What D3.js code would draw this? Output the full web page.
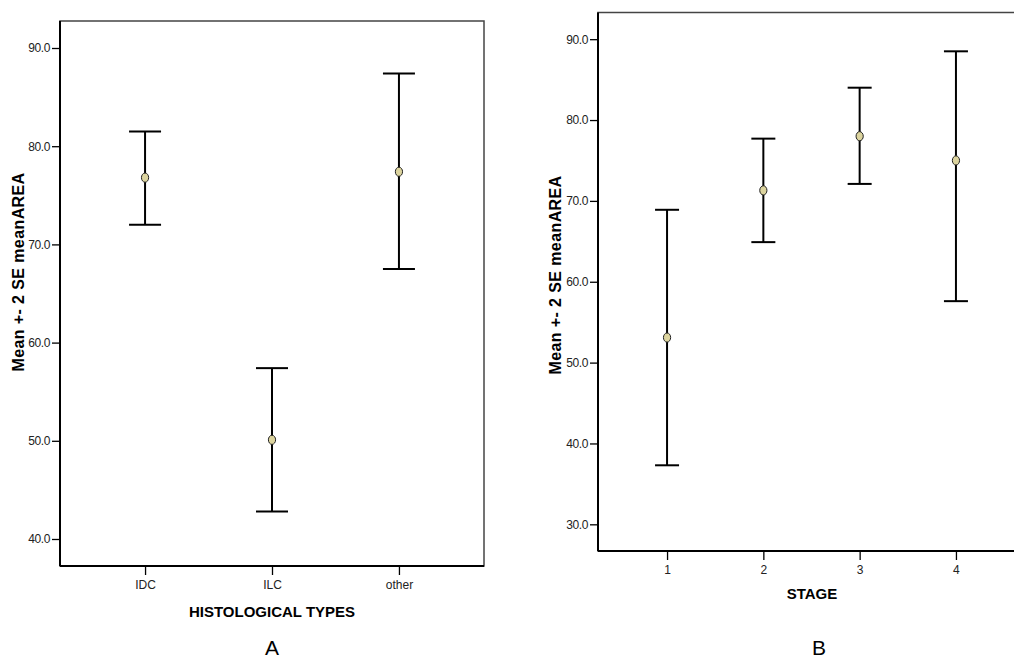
<!DOCTYPE html>
<html>
<head>
<meta charset="utf-8">
<script src="https://cdn.jsdelivr.net/npm/d3@7"></script>
<style>
  body { margin: 0; background: #fff; }
  svg { display: block; }
</style>
</head>
<body>
<div class="chart"></div>
<script>
// panel A: histological types
const histTypes = ["IDC", "ILC", "other"];
const histMean = [76.8, 50.1, 77.4];
const histLower = [72.0, 42.8, 67.5];
const histUpper = [81.5, 57.4, 87.4];
const histTicks = [40, 50, 60, 70, 80, 90];

// panel B: stage
const stages = ["1", "2", "3", "4"];
const stageMean = [53.1, 71.3, 78.0, 75.0];
const stageLower = [37.3, 64.9, 72.1, 57.6];
const stageUpper = [68.9, 77.7, 84.0, 88.5];
const stageTicks = [30, 40, 50, 60, 70, 80, 90];

const W = 1014, H = 661;
const narrow = "'Liberation Sans Narrow', 'Liberation Sans', Arial, sans-serif";
const sans = "'Liberation Sans', Arial, sans-serif";

const svg = d3.select(".chart")
    .append("svg")
        .attr("width", W)
        .attr("height", H);

const drawPanel = (p) => {
    const g = svg.append("g");
    const x = d3.scalePoint()
        .domain(p.cats)
        .range([p.left, p.right])
        .padding(p.pad);
    const y = d3.scaleLinear()
        .domain(p.yDomain)
        .range([p.bottom, p.top]);

    // frame (top/right lighter)
    g.append("rect")
        .attr("x", p.left).attr("y", p.top)
        .attr("width", p.right - p.left).attr("height", p.bottom - p.top)
        .attr("fill", "none").attr("stroke", "#444").attr("stroke-width", 1.5);

    // y axis
    const yAxis = g.append("g")
        .attr("transform", `translate(${p.left},0)`)
        .call(d3.axisLeft(y).tickValues(p.ticks).tickFormat(d3.format(".1f")).tickSize(8).tickPadding(2));
    yAxis.select(".domain").remove();
    yAxis.selectAll("line").attr("stroke", "#000").attr("stroke-width", 1.3);
    yAxis.selectAll("text").attr("font-family", narrow).attr("font-size", 12)
        .attr("letter-spacing", -0.4).attr("fill", "#222");
    g.append("line")
        .attr("x1", p.left).attr("x2", p.left)
        .attr("y1", p.top).attr("y2", p.bottom)
        .attr("stroke", "#000").attr("stroke-width", 2);

    // x axis
    const xAxis = g.append("g")
        .attr("transform", `translate(0,${p.bottom})`)
        .call(d3.axisBottom(x).tickSize(9).tickPadding(5));
    xAxis.select(".domain").remove();
    xAxis.selectAll("line").attr("stroke", "#000").attr("stroke-width", 1.3);
    xAxis.selectAll("text").attr("font-family", narrow).attr("font-size", 12).attr("fill", "#222");
    g.append("line")
        .attr("x1", p.left).attr("x2", p.right)
        .attr("y1", p.bottom).attr("y2", p.bottom)
        .attr("stroke", "#000").attr("stroke-width", 2.2);

    const data = p.cats.map((c, i) => ({ cat: c, mean: p.mean[i], lo: p.lower[i], hi: p.upper[i] }));
    const bars = g.append("g").selectAll("g")
        .data(data)
        .join("g");
    bars.append("line")
        .attr("x1", d => x(d.cat)).attr("x2", d => x(d.cat))
        .attr("y1", d => y(d.hi)).attr("y2", d => y(d.lo))
        .attr("stroke", "#000").attr("stroke-width", 2);
    bars.append("line")
        .attr("x1", d => x(d.cat) - p.cap / 2).attr("x2", d => x(d.cat) + p.cap / 2)
        .attr("y1", d => y(d.hi)).attr("y2", d => y(d.hi))
        .attr("stroke", "#000").attr("stroke-width", 2);
    bars.append("line")
        .attr("x1", d => x(d.cat) - p.cap / 2).attr("x2", d => x(d.cat) + p.cap / 2)
        .attr("y1", d => y(d.lo)).attr("y2", d => y(d.lo))
        .attr("stroke", "#000").attr("stroke-width", 2);
    bars.append("ellipse")
        .attr("cx", d => x(d.cat)).attr("cy", d => y(d.mean))
        .attr("rx", 3.6).attr("ry", 4.6)
        .attr("fill", "#dcd49e").attr("stroke", "#222").attr("stroke-width", 1);

    // titles
    g.append("text")
        .attr("transform", `translate(${p.yTitleX},${p.yTitleY}) rotate(-90)`)
        .attr("text-anchor", "middle")
        .attr("font-family", sans).attr("font-weight", "bold").attr("font-size", 16)
        .attr("letter-spacing", 0.4)
        .text("Mean +- 2 SE meanAREA");
    g.append("text")
        .attr("x", p.xTitleX).attr("y", p.xTitleY)
        .attr("text-anchor", "middle")
        .attr("font-family", narrow).attr("font-weight", "bold").attr("font-size", 15)
        .text(p.xTitle);
    g.append("text")
        .attr("x", p.xTitleX + p.letterDx).attr("y", p.letterY)
        .attr("text-anchor", "middle")
        .attr("font-family", sans).attr("font-size", 21)
        .text(p.letter);
};

drawPanel({
    cats: histTypes, mean: histMean, lower: histLower, upper: histUpper, ticks: histTicks,
    left: 60, right: 484, top: 21, bottom: 566, pad: 0.67,
    yDomain: [37.25, 92.75], cap: 32,
    yTitleX: 24, yTitleY: 272, xTitle: "HISTOLOGICAL TYPES", xTitleX: 272, xTitleY: 617,
    letter: "A", letterDx: 0, letterY: 655
});

drawPanel({
    cats: stages, mean: stageMean, lower: stageLower, upper: stageUpper, ticks: stageTicks,
    left: 598, right: 1025, top: 12.5, bottom: 551, pad: 0.717,
    yDomain: [26.7, 93.3], cap: 24,
    yTitleX: 561, yTitleY: 275, xTitle: "STAGE", xTitleX: 812, xTitleY: 599,
    letter: "B", letterDx: 7, letterY: 655
});
</script>
</body>
</html>
